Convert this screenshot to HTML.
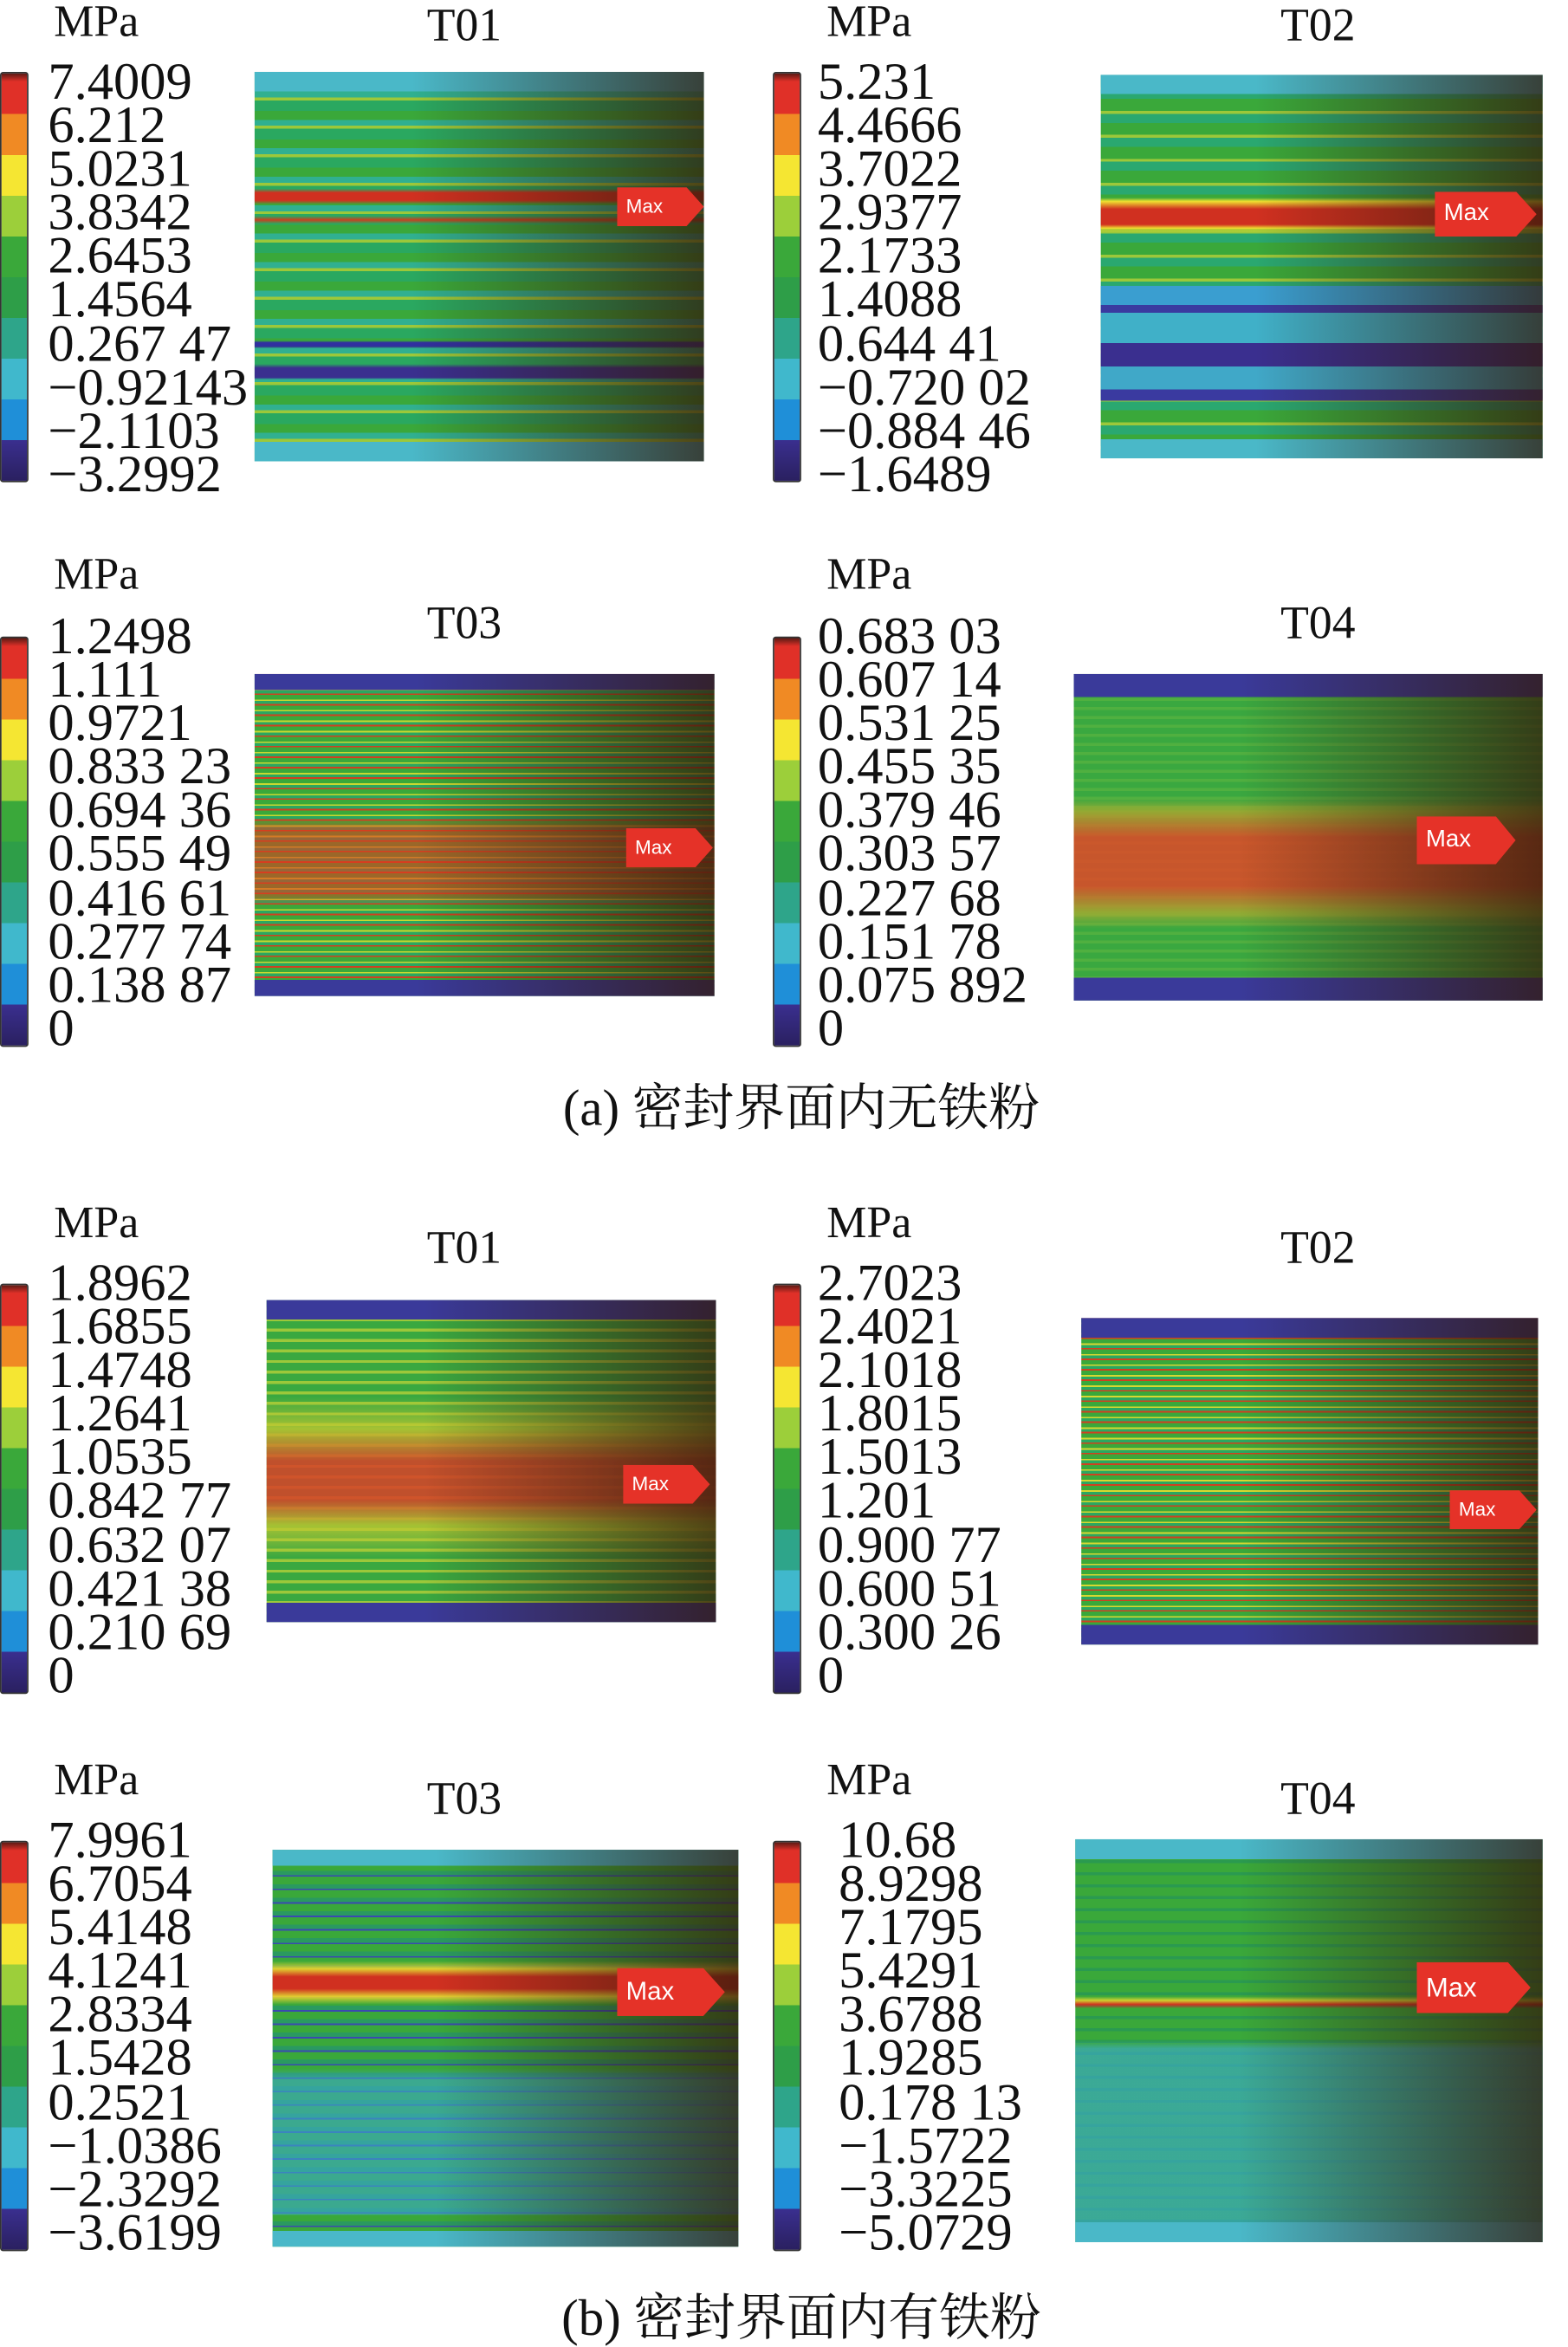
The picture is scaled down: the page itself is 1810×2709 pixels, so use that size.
<!DOCTYPE html>
<html><head><meta charset="utf-8"><style>
html,body{margin:0;padding:0;background:#fff;}
body{width:1810px;height:2697px;overflow:hidden;position:relative;}
#c{position:absolute;left:0;top:0;width:1047px;height:1560px;transform:scale(1.7288);transform-origin:0 0;font-family:"Liberation Serif","Noto Serif CJK SC",serif;color:#111;}
.t{position:absolute;font-size:35px;line-height:29.1px;white-space:nowrap;letter-spacing:0;}
.mpa{position:absolute;font-size:30px;line-height:30px;}
.ti{position:absolute;font-size:31px;line-height:30px;transform:translateX(-50%);}
.cb{position:absolute;width:17px;height:272px;border:1px solid #333;border-radius:2px;background:linear-gradient(180deg,#5a1a14 0,#e03028 2%,#e03028 10%,#f08a24 10%,#f08a24 20%,#f5e632 20%,#f5e632 30%,#9ccf3a 30%,#9ccf3a 40%,#3aa83a 40%,#3aa83a 50%,#2e9e48 50%,#2e9e48 60%,#2ea58a 60%,#2ea58a 70%,#40b8cc 70%,#40b8cc 80%,#1f8fd8 80%,#1f8fd8 90%,#3a2f8f 90%,#2a2060 100%);}
.p{position:absolute;}
.p .o{position:absolute;left:0;top:0;right:0;bottom:0;background:linear-gradient(90deg,rgba(0,0,0,0) 35%,rgba(50,25,10,.75) 100%);}
.mx{position:absolute;width:58px;height:26px;background:#e53228;clip-path:polygon(0 0,80% 0,100% 50%,80% 100%,0 100%);color:#fff;font:13px "Liberation Sans",sans-serif;line-height:26px;padding-left:6px;box-sizing:border-box;}
.cap{position:absolute;font-size:34px;line-height:34px;transform:translateX(-50%);white-space:nowrap;}
</style></head><body><div id="c">

<!-- Row 1 -->
<div class="mpa" style="left:36px;top:0">MPa</div>
<div class="ti" style="left:310px;top:2px">T01</div>
<div class="cb" style="left:0;top:48px"></div>
<div class="t" style="left:32px;top:40px">7.4009<br>6.212<br>5.0231<br>3.8342<br>2.6453<br>1.4564<br>0.267 47<br>−0.92143<br>−2.1103<br>−3.2992</div>
<div class="p" style="left:170px;top:48px;width:300px;height:260px;background:
linear-gradient(180deg,#4ab8c8 0,#4ab8c8 5%,transparent 5%,transparent 95%,#4ab8c8 95%),
linear-gradient(180deg,transparent 30%,#d03020 31%,#d03020 33%,transparent 34%,transparent 37%,#c84020 38%,transparent 39%,transparent 17%),
linear-gradient(180deg,transparent 69%,#3030a0 69.5%,#3030a0 70.5%,transparent 71%,transparent 75%,#3a2f8f 76%,#3a2f8f 78.5%,transparent 79%),
repeating-linear-gradient(180deg,#2aa860 0,#2aa860 7px,#3aa83a 7px,#3aa83a 13px,#30b090 13px,#30b090 17px,#9cc83a 17px,#9cc83a 19px);">
<div class="o"></div></div>
<div class="mx" style="left:412px;top:125px">Max</div>

<div class="mpa" style="left:552px;top:0">MPa</div>
<div class="ti" style="left:880px;top:2px">T02</div>
<div class="cb" style="left:516px;top:48px"></div>
<div class="t" style="left:546px;top:40px">5.231<br>4.4666<br>3.7022<br>2.9377<br>2.1733<br>1.4088<br>0.644 41<br>−0.720 02<br>−0.884 46<br>−1.6489</div>
<div class="p" style="left:735px;top:50px;width:295px;height:256px;background:
linear-gradient(180deg,#4ab8c8 0,#4ab8c8 5%,transparent 5%,transparent 95%,#4ab8c8 95%),
linear-gradient(180deg,transparent 32%,#f0e030 33%,#d03020 35%,#d03020 39%,#f0e030 40%,transparent 41%),
linear-gradient(180deg,transparent 55%,#3a9ed0 55%,#3a9ed0 60%,#3a3aa0 60%,#3a3aa0 62%,#40b0c8 62%,#40b0c8 70%,#3a2f8f 70%,#3a2f8f 76%,#40a8c8 76%,#40a8c8 82%,#3a3aa0 82%,#3a3aa0 85%,transparent 85%),
repeating-linear-gradient(180deg,#3aa83a 0,#3aa83a 8px,#9cc83a 8px,#9cc83a 10px,#2aa870 10px,#2aa870 16px);">
<div class="o"></div></div>
<div class="mx" style="left:958px;top:128px;width:68px;height:30px;line-height:30px;font-size:16px">Max</div>

<!-- Row 2 -->
<div class="mpa" style="left:36px;top:369px">MPa</div>
<div class="ti" style="left:310px;top:401px">T03</div>
<div class="cb" style="left:0;top:425px"></div>
<div class="t" style="left:32px;top:410px">1.2498<br>1.111<br>0.9721<br>0.833 23<br>0.694 36<br>0.555 49<br>0.416 61<br>0.277 74<br>0.138 87<br>0</div>
<div class="p" style="left:170px;top:450px;width:307px;height:215px;background:
linear-gradient(180deg,#3a3a9a 0,#3a3a9a 5%,transparent 5%,transparent 95%,#3a3a9a 95%),
linear-gradient(180deg,transparent 45%,rgba(220,60,30,.6) 48%,rgba(220,60,30,.6) 68%,transparent 72%),
repeating-linear-gradient(180deg,#3aa83a 0,#3aa83a 3px,#c8d830 3px,#c8d830 4px,#2aa860 4px,#2aa860 6px,#d04020 6px,#d04020 7px);">
<div class="o"></div></div>
<div class="mx" style="left:418px;top:553px">Max</div>

<div class="mpa" style="left:552px;top:369px">MPa</div>
<div class="ti" style="left:880px;top:401px">T04</div>
<div class="cb" style="left:516px;top:425px"></div>
<div class="t" style="left:546px;top:410px">0.683 03<br>0.607 14<br>0.531 25<br>0.455 35<br>0.379 46<br>0.303 57<br>0.227 68<br>0.151 78<br>0.075 892<br>0</div>
<div class="p" style="left:717px;top:450px;width:313px;height:218px;background:
linear-gradient(180deg,#3a3a9a 0,#3a3a9a 7%,transparent 7%,transparent 93%,#3a3a9a 93%),
linear-gradient(180deg,transparent 38%,rgba(170,170,48,.8) 42%,rgba(224,72,40,.85) 50%,rgba(224,72,40,.85) 65%,rgba(170,170,48,.8) 73%,transparent 78%),
repeating-linear-gradient(180deg,#3aa840 0,#3aa840 4px,#50b040 4px,#50b040 6px);">
<div class="o"></div></div>
<div class="mx" style="left:946px;top:545px;width:66px;height:32px;line-height:32px;font-size:16px">Max</div>

<div class="cap" style="left:535px;top:724px">(a) 密封界面内无铁粉</div>

<!-- Row 3 -->
<div class="mpa" style="left:36px;top:802px">MPa</div>
<div class="ti" style="left:310px;top:818px">T01</div>
<div class="cb" style="left:0;top:857px"></div>
<div class="t" style="left:32px;top:842px">1.8962<br>1.6855<br>1.4748<br>1.2641<br>1.0535<br>0.842 77<br>0.632 07<br>0.421 38<br>0.210 69<br>0</div>
<div class="p" style="left:178px;top:868px;width:300px;height:215px;background:
linear-gradient(180deg,#3a3a9a 0,#3a3a9a 6%,transparent 6%,transparent 94%,#3a3a9a 94%),
linear-gradient(180deg,transparent 30%,rgba(192,200,48,.8) 40%,rgba(216,64,40,.85) 50%,rgba(216,64,40,.85) 62%,rgba(192,200,48,.8) 70%,transparent 80%),
repeating-linear-gradient(180deg,#3aa840 0,#3aa840 5px,#9cc83a 5px,#9cc83a 7px);">
<div class="o"></div></div>
<div class="mx" style="left:416px;top:978px">Max</div>

<div class="mpa" style="left:552px;top:802px">MPa</div>
<div class="ti" style="left:880px;top:818px">T02</div>
<div class="cb" style="left:516px;top:857px"></div>
<div class="t" style="left:546px;top:842px">2.7023<br>2.4021<br>2.1018<br>1.8015<br>1.5013<br>1.201<br>0.900 77<br>0.600 51<br>0.300 26<br>0</div>
<div class="p" style="left:722px;top:880px;width:305px;height:218px;background:
linear-gradient(180deg,#3a3a9a 0,#3a3a9a 6%,transparent 6%,transparent 94%,#3a3a9a 94%),
repeating-linear-gradient(180deg,#3aa83a 0,#3aa83a 3px,#d8d830 3px,#d8d830 4px,#2aa860 4px,#2aa860 6px,#d04020 6px,#d04020 7px);">
<div class="o"></div></div>
<div class="mx" style="left:968px;top:995px">Max</div>

<!-- Row 4 -->
<div class="mpa" style="left:36px;top:1174px">MPa</div>
<div class="ti" style="left:310px;top:1186px">T03</div>
<div class="cb" style="left:0;top:1229px"></div>
<div class="t" style="left:32px;top:1214px">7.9961<br>6.7054<br>5.4148<br>4.1241<br>2.8334<br>1.5428<br>0.2521<br>−1.0386<br>−2.3292<br>−3.6199</div>
<div class="p" style="left:182px;top:1235px;width:311px;height:265px;background:
linear-gradient(180deg,#4ab8c8 0,#4ab8c8 4%,transparent 4%,transparent 96%,#4ab8c8 96%),
linear-gradient(180deg,transparent 28%,#e0d030 30%,#d03020 32%,#d03020 35%,#e0d030 37%,transparent 39%),
linear-gradient(180deg,transparent 55%,rgba(60,170,200,.6) 58%,rgba(60,170,200,.6) 92%,transparent 92%),
repeating-linear-gradient(180deg,#3aa83a 0,#3aa83a 5px,#2a9a60 5px,#2a9a60 8px,#3a4ab0 8px,#3a4ab0 9px);">
<div class="o"></div></div>
<div class="mx" style="left:412px;top:1314px;width:72px;height:32px;line-height:32px;font-size:17px">Max</div>

<div class="mpa" style="left:552px;top:1174px">MPa</div>
<div class="ti" style="left:880px;top:1186px">T04</div>
<div class="cb" style="left:516px;top:1229px"></div>
<div class="t" style="left:560px;top:1214px">10.68<br>8.9298<br>7.1795<br>5.4291<br>3.6788<br>1.9285<br>0.178 13<br>−1.5722<br>−3.3225<br>−5.0729</div>
<div class="p" style="left:718px;top:1228px;width:312px;height:269px;background:
linear-gradient(180deg,#4ab8c8 0,#4ab8c8 5%,transparent 5%,transparent 95%,#4ab8c8 95%),
linear-gradient(180deg,transparent 39%,#d0d030 40%,#d03020 41%,transparent 42%),
linear-gradient(180deg,transparent 50%,rgba(60,170,200,.65) 52%,rgba(60,170,200,.65) 95%,transparent 95%),
repeating-linear-gradient(180deg,#3aa83a 0,#3aa83a 6px,#2a9a50 6px,#2a9a50 8px);">
<div class="o"></div></div>
<div class="mx" style="left:946px;top:1310px;width:76px;height:34px;line-height:34px;font-size:18px">Max</div>

<div class="cap" style="left:535px;top:1532px">(b) 密封界面内有铁粉</div>

</div></body></html>
